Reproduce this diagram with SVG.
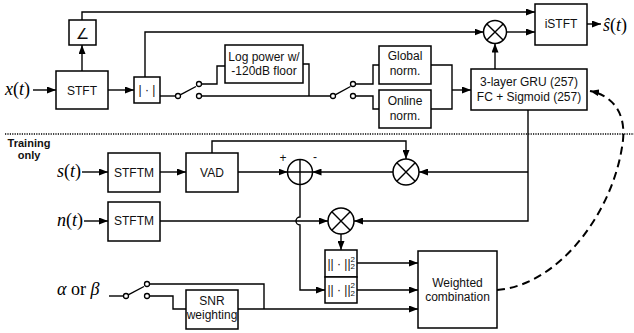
<svg xmlns="http://www.w3.org/2000/svg" width="634" height="333" viewBox="0 0 634 333">
<style>
.box{fill:#fff;stroke:#000;stroke-width:1.5}
.ln{fill:none;stroke:#000;stroke-width:1.4}
.arr{marker-end:url(#ah)}
.dash{fill:none;stroke:#000;stroke-width:2;stroke-dasharray:8 5}
.dot{fill:none;stroke:#000;stroke-width:1.5;stroke-dasharray:1.2 1.2}
.t{font-family:"Liberation Sans",Arial,sans-serif;font-size:12px;text-anchor:middle;fill:#111}
.b{font-family:"Liberation Sans",Arial,sans-serif;font-size:11px;font-weight:bold;text-anchor:middle;fill:#111}
.m{font-family:"Liberation Serif","Times New Roman",serif;font-size:18px;fill:#000}
.i{font-style:italic}
.sw{fill:#fff;stroke:#000;stroke-width:1.3}
.op{fill:#fff;stroke:#000;stroke-width:1.5}
.opl{stroke:#000;stroke-width:1.4}
.s{font-family:"Liberation Sans",Arial,sans-serif;font-size:8px;fill:#111}
</style>
<defs>
<marker id="ah" markerUnits="userSpaceOnUse" markerWidth="9" markerHeight="7" refX="9" refY="3.5" orient="auto"><path d="M0,0 L9,3.5 L0,7 z" fill="#000"/></marker>
</defs>

<line class="dot" x1="5" y1="134" x2="634" y2="134"/>

<g id="connectors">
<path class="ln arr" d="M33,90 H56"/>
<path class="ln arr" d="M82,71 V45"/>
<path class="ln arr" d="M82,20 V12 H535"/>
<path class="ln arr" d="M108,90 H134"/>
<path class="ln arr" d="M145,77 V32 H483.5"/>
<path class="ln" d="M160,96 H175.5"/>
<path class="ln" d="M180.2,94.8 L196,86.5"/>
<path class="ln" d="M201.5,84 H217 V66 H225"/>
<path class="ln" d="M201.5,96 H330.5"/>
<path class="ln" d="M303,64 H309 V96"/>
<path class="ln" d="M335.2,94.8 L350.5,86.5"/>
<path class="ln" d="M355.5,84 H373 V65 H379"/>
<path class="ln" d="M355.5,96 H373 V109 H379"/>
<path class="ln" d="M431,65 H452 V109 H431"/>
<path class="ln arr" d="M452,90 H471"/>
<path class="ln arr" d="M495,69 V43.5"/>
<path class="ln arr" d="M506.5,32 H535"/>
<path class="ln arr" d="M587,24 H601"/>
<path class="ln arr" d="M528,110 V221 H354"/>
<path class="ln arr" d="M528,172 H419"/>
<path class="ln arr" d="M82,172 H108"/>
<path class="ln arr" d="M160,172 H186"/>
<path class="ln arr" d="M238,172 H287.5"/>
<path class="ln arr" d="M212,153 V141 H406 V159"/>
<path class="ln arr" d="M393,172 H312.5"/>
<path class="ln arr" d="M84,221 H108"/>
<path class="ln arr" d="M160,221 H328"/>
<path class="ln arr" d="M300,184.5 V217 A4,4 0 0 0 300,225 V290 H325"/>
<path class="ln arr" d="M341,234 V250"/>
<path class="ln arr" d="M357,263 H418"/>
<path class="ln arr" d="M357,290 H418"/>
<path class="ln" d="M109,296 H123.5"/>
<path class="ln" d="M128.2,294.8 L144,286.5"/>
<path class="ln" d="M149.5,284 H264 V309"/>
<path class="ln" d="M149.5,296 H173 V309 H186"/>
<path class="ln arr" d="M238,309 H418"/>
<path class="dash arr" d="M497,290 C560,285 615,210 623,140 C626,110 610,95 590,91"/>
</g>

<g id="switch1"><circle class="sw" cx="178" cy="96" r="2.5"/><circle class="sw" cx="199" cy="84" r="2.5"/><circle class="sw" cx="199" cy="96" r="2.5"/></g>
<g id="switch2"><circle class="sw" cx="333" cy="96" r="2.5"/><circle class="sw" cx="353" cy="84" r="2.5"/><circle class="sw" cx="353" cy="96" r="2.5"/></g>
<g id="switch3"><circle class="sw" cx="126" cy="296" r="2.5"/><circle class="sw" cx="147" cy="284" r="2.5"/><circle class="sw" cx="147" cy="296" r="2.5"/></g>

<g id="x_label"><text class="m" x="5" y="95"><tspan class="i">x</tspan>(<tspan class="i">t</tspan>)</text></g>
<g id="stft"><rect class="box" x="56" y="71" width="52" height="38"/><text class="t" x="82" y="94.5">STFT</text></g>
<g id="angle"><rect class="box" x="69" y="20" width="27" height="25"/><text x="82.5" y="38.5" text-anchor="middle" font-family="DejaVu Sans,sans-serif" font-size="15" fill="#111">∠</text></g>
<g id="abs"><rect class="box" x="134" y="77" width="26" height="26"/><text class="t" x="147" y="94">| · |</text></g>
<g id="logpower"><rect class="box" x="225" y="45" width="78" height="38"/><text class="t" x="264" y="60.5">Log power w/</text><text class="t" x="264" y="75">-120dB floor</text></g>
<g id="global_norm"><rect class="box" x="379" y="46" width="52" height="38"/><text class="t" x="405" y="60">Global</text><text class="t" x="405" y="75">norm.</text></g>
<g id="online_norm"><rect class="box" x="379" y="90" width="52" height="38"/><text class="t" x="405" y="105">Online</text><text class="t" x="405" y="120">norm.</text></g>
<g id="gru"><rect class="box" x="471" y="69" width="116" height="41"/><text class="t" x="529" y="86">3-layer GRU (257)</text><text class="t" x="529" y="101">FC + Sigmoid (257)</text></g>
<g id="mult1"><circle class="op" cx="495" cy="32" r="11.5"/><path class="opl" d="M486.9,23.9 L503.1,40.1 M503.1,23.9 L486.9,40.1"/></g>
<g id="istft"><rect class="box" x="535" y="4" width="52" height="41"/><text class="t" x="561" y="28">iSTFT</text></g>
<g id="shat_label"><text class="m" x="603" y="31"><tspan class="i">ŝ</tspan>(<tspan class="i">t</tspan>)</text></g>

<g id="training_label"><text class="b" x="29" y="147">Training</text><text class="b" x="29" y="159">only</text></g>
<g id="s_label"><text class="m" x="57" y="177"><tspan class="i">s</tspan>(<tspan class="i">t</tspan>)</text></g>
<g id="n_label"><text class="m" x="57" y="226"><tspan class="i">n</tspan>(<tspan class="i">t</tspan>)</text></g>
<g id="stftm1"><rect class="box" x="108" y="153" width="52" height="39"/><text class="t" x="134" y="177">STFTM</text></g>
<g id="stftm2"><rect class="box" x="108" y="202" width="52" height="39"/><text class="t" x="134" y="225">STFTM</text></g>
<g id="vad"><rect class="box" x="186" y="153" width="52" height="39"/><text class="t" x="212" y="177">VAD</text></g>
<g id="sum"><circle class="op" cx="300" cy="172" r="12.5"/><path class="opl" d="M287.5,172 H312.5 M300,159.5 V184.5"/><text class="t" x="283" y="162" font-size="11">+</text><text class="t" x="315" y="161" font-size="11">-</text></g>
<g id="mult2"><circle class="op" cx="406" cy="172" r="13"/><path class="opl" d="M396.8,162.8 L415.2,181.2 M415.2,162.8 L396.8,181.2"/></g>
<g id="mult3"><circle class="op" cx="341" cy="221" r="13"/><path class="opl" d="M331.8,211.8 L350.2,230.2 M350.2,211.8 L331.8,230.2"/></g>
<g id="norm1"><rect class="box" x="325" y="250" width="32" height="27"/><text class="t" x="339" y="267.5" font-size="11">|| · ||</text><text class="s" x="350.5" y="261.5">2</text><text class="s" x="350.5" y="269">2</text></g>
<g id="norm2"><rect class="box" x="325" y="277" width="32" height="26"/><text class="t" x="339" y="294" font-size="11">|| · ||</text><text class="s" x="350.5" y="288">2</text><text class="s" x="350.5" y="295.5">2</text></g>
<g id="weighted"><rect class="box" x="418" y="251" width="79" height="77"/><text class="t" x="457.5" y="287">Weighted</text><text class="t" x="457.5" y="301">combination</text></g>
<g id="snr"><rect class="box" x="186" y="290" width="52" height="39"/><text class="t" x="212" y="305">SNR</text><text class="t" x="212" y="319">weighting</text></g>
<g id="alpha_label"><text class="m" x="57" y="295"><tspan class="i">α</tspan> or <tspan class="i">β</tspan></text></g>
</svg>
